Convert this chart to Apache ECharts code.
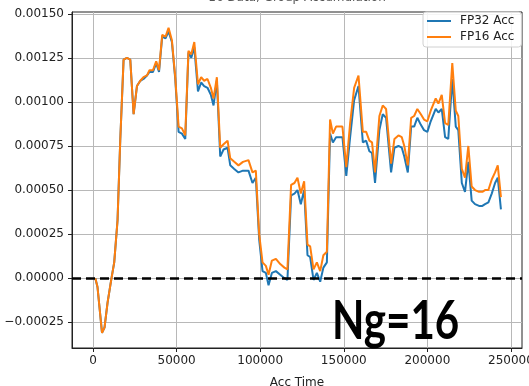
<!DOCTYPE html>
<html>
<head>
<meta charset="utf-8">
<script src="https://cdn.jsdelivr.net/npm/echarts@6/dist/echarts.min.js"></script>
<style>
  html, body { margin: 0; padding: 0; background: #fff; }
  #chart { width: 529px; height: 386px; }
</style>
</head>
<body>
<div id="chart"></div>
<script>
// accumulation time (x) and accumulated error for both precisions
const accTime = [
  1400, 2700, 5400, 6900, 8700, 10900, 12700, 14700, 16300, 18300,
  20300, 22300, 24300, 26300, 28300, 30200, 32300, 33800, 35900, 37800,
  39500, 41400, 43400, 45200, 47200, 49200, 51200, 53200, 55200, 57100,
  58800, 60600, 62800, 64700, 66500, 68500, 70500, 72100, 74100, 76100,
  78100, 80500, 82100, 84500, 87000, 89700, 93000, 95400, 97400, 99400,
  101400, 103400, 105000, 107000, 109400, 112000, 114500, 116300, 118500, 120500,
  122300, 124300, 126300, 128300, 129900, 131900, 133900, 135900, 137800, 139900,
  141800, 143500, 145400, 147800, 149200, 151500, 153800, 156200, 158800, 161400,
  163400, 165300, 166900, 168700, 171300, 173300, 175300, 178300, 180300, 182700,
  184700, 186200, 188300, 190300, 192100, 194000, 196100, 198000, 200000, 202000,
  205000, 206600, 208600, 210600, 212500, 214900, 217000, 218500, 220600, 222500,
  224500, 226500, 228500, 230900, 232900, 234500, 236500, 238500, 240500, 242100,
  244000
]
const fp32Acc = [
  0, -0.00005, -0.00031, -0.00028, -0.00014, -0.00001, 0.00009, 0.00033, 0.00078, 0.00124,
  0.00125, 0.00124, 0.00093, 0.00109, 0.00112, 0.00113, 0.00115, 0.00117, 0.00117, 0.00122,
  0.00117, 0.00137, 0.00136, 0.0014, 0.00134, 0.00113, 0.00083, 0.00082, 0.00079, 0.00128,
  0.00125, 0.00131, 0.00106, 0.00111, 0.00109, 0.00108, 0.00104, 0.00098, 0.00112, 0.00069,
  0.00073, 0.00074, 0.00064, 0.00062, 0.0006, 0.00061, 0.00061, 0.00054, 0.00057, 0.00022,
  0.00004, 0.00003, -0.00004, 0.00003, 0.00004, 0.00002, 0, -0.00001, 0.00047, 0.00048,
  0.0005, 0.00042, 0.0005, 0.00013, 0.00012, -0.00001, 0.00003, -0.00002, 0.00006, 0.00009,
  0.00082, 0.00077, 0.0008, 0.0008, 0.0008, 0.00058, 0.0008, 0.00101, 0.00109, 0.00077,
  0.00078, 0.00072, 0.00071, 0.00054, 0.00084, 0.00093, 0.00091, 0.0006, 0.00074, 0.00075,
  0.00074, 0.00069, 0.0006, 0.00086, 0.00086, 0.00091, 0.00087, 0.00084, 0.00083, 0.00089,
  0.00096, 0.00094, 0.00096, 0.0008, 0.00079, 0.00113, 0.00086, 0.00084, 0.00054, 0.00049,
  0.00066, 0.00044, 0.00042, 0.00041, 0.00041, 0.00042, 0.00043, 0.00048, 0.00054, 0.00057,
  0.00039
]
const fp16Acc = [
  0, -0.00005, -0.00031, -0.00028, -0.00014, -0.00001, 0.00009, 0.00033, 0.00078, 0.00124,
  0.00125, 0.00124, 0.00093, 0.00109, 0.00112, 0.00114, 0.00115, 0.00118, 0.00118, 0.00123,
  0.00118, 0.00138, 0.00137, 0.00142, 0.00135, 0.00114, 0.00086, 0.00085, 0.00081, 0.00129,
  0.00127, 0.00134, 0.0011, 0.00114, 0.00112, 0.00113, 0.00108, 0.00102, 0.00114, 0.00074,
  0.00076, 0.00078, 0.00068, 0.00066, 0.00064, 0.00066, 0.00067, 0.0006, 0.00061, 0.00025,
  0.00009, 0.00007, 0.00002, 0.0001, 0.00011, 0.00008, 0.00006, 0.00005, 0.00053, 0.00054,
  0.00057, 0.00048, 0.00055, 0.00019, 0.00018, 0.00005, 0.00009, 0.00004, 0.00013, 0.00015,
  0.0009, 0.00082, 0.00086, 0.00086, 0.00086, 0.00063, 0.00088, 0.00108, 0.00115, 0.00083,
  0.00083, 0.00078, 0.00077, 0.0006, 0.00092, 0.00098, 0.00096, 0.00065, 0.00079, 0.00081,
  0.0008, 0.00075, 0.00064, 0.00091, 0.00092, 0.00096, 0.00093, 0.0009, 0.00089, 0.00095,
  0.00102, 0.00099, 0.00104, 0.00088, 0.00087, 0.00122, 0.00095, 0.00092, 0.00062, 0.00057,
  0.00075, 0.00052, 0.0005, 0.00049, 0.00049, 0.0005, 0.0005, 0.00056, 0.0006, 0.00064,
  0.00046
]
const xTicks = [0, 50000, 100000, 150000, 200000, 250000]
const yTicks = [-0.00025, 0, 0.00025, 0.0005, 0.00075, 0.001, 0.00125, 0.0015]

const FONT = 'DejaVu Sans'
const zip = (xs, ys) => xs.map((x, i) => [x, ys[i]])

const chart = echarts.init(document.getElementById('chart'))

const option = {
  animation: false,
  textStyle: { fontFamily: FONT },
  grid: {
    left: 72, right: 7, top: 12, bottom: 38,
    outerBoundsMode: 'none',
    containLabel: false,
    show: true, borderColor: '#222', borderWidth: 1
  },
  legend: {
    data: ['FP32 Acc', 'FP16 Acc'],
    orient: 'vertical',
    left: 423, top: 12,
    padding: [3, 7, 4, 4],
    itemGap: 4,
    itemWidth: 24,
    itemHeight: 2,
    icon: 'rect',
    backgroundColor: 'rgba(255,255,255,0.85)',
    borderColor: '#d0d0d0',
    borderWidth: 1,
    borderRadius: 3,
    textStyle: { fontFamily: FONT, fontSize: 12, color: '#222', padding: [0, 0, 0, 4] }
  },
  xAxis: {
    type: 'value',
    min: -12550, max: 256600,
    name: 'Acc Time',
    nameLocation: 'middle',
    nameGap: 29,
    nameTextStyle: { fontFamily: FONT, fontSize: 12, color: '#222' },
    axisLine: { show: true, onZero: false, lineStyle: { color: '#222' } },
    axisTick: { show: true, length: 4, customValues: xTicks, lineStyle: { color: '#222' } },
    axisLabel: {
      customValues: xTicks, fontSize: 12, color: '#222', margin: 7,
      formatter: v => String(v)
    },
    splitLine: { show: true, lineStyle: { color: '#b8b8b8', width: 1 } }
  },
  yAxis: {
    type: 'value',
    min: -0.000396, max: 0.00151,
    axisLine: { show: true, onZero: false, lineStyle: { color: '#222' } },
    axisTick: { show: true, length: 4, customValues: yTicks, lineStyle: { color: '#222' } },
    axisLabel: {
      customValues: yTicks, fontSize: 12, color: '#222', margin: 8,
      formatter: v => v.toFixed(5).replace('-', '\u2212')
    },
    splitLine: { show: true, lineStyle: { color: '#b8b8b8', width: 1 } }
  },
  series: [
    {
      name: 'FP32 Acc',
      type: 'line',
      showSymbol: false,
      color: '#1f77b4',
      lineStyle: { width: 2, color: '#1f77b4' },
      data: zip(accTime, fp32Acc),
      markLine: {
        silent: true,
        symbol: 'none',
        label: { show: false },
        lineStyle: { color: '#000', type: [9, 5], width: 2.5 },
        data: [{ yAxis: 0 }],
        z: 5
      }
    },
    {
      name: 'FP16 Acc',
      type: 'line',
      showSymbol: false,
      color: '#ff7f0e',
      lineStyle: { width: 2, color: '#ff7f0e' },
      data: zip(accTime, fp16Acc)
    }
  ],
  graphic: [
    {
      type: 'text',
      x: 297, y: 4,
      style: {
        text: '16 Data, Group Accumulation',
        font: '12px "DejaVu Sans"',
        fill: '#555',
        align: 'center',
        verticalAlign: 'bottom'
      }
    },
    {
      type: 'text',
      x: 332, y: 322,
      scaleX: 0.78,
      z: 100,
      style: {
        text: 'Ng=16',
        font: 'bold 54px Lato',
        fill: '#000',
        align: 'left',
        verticalAlign: 'middle'
      }
    }
  ]
}

chart.setOption(option)
</script>
</body>
</html>
